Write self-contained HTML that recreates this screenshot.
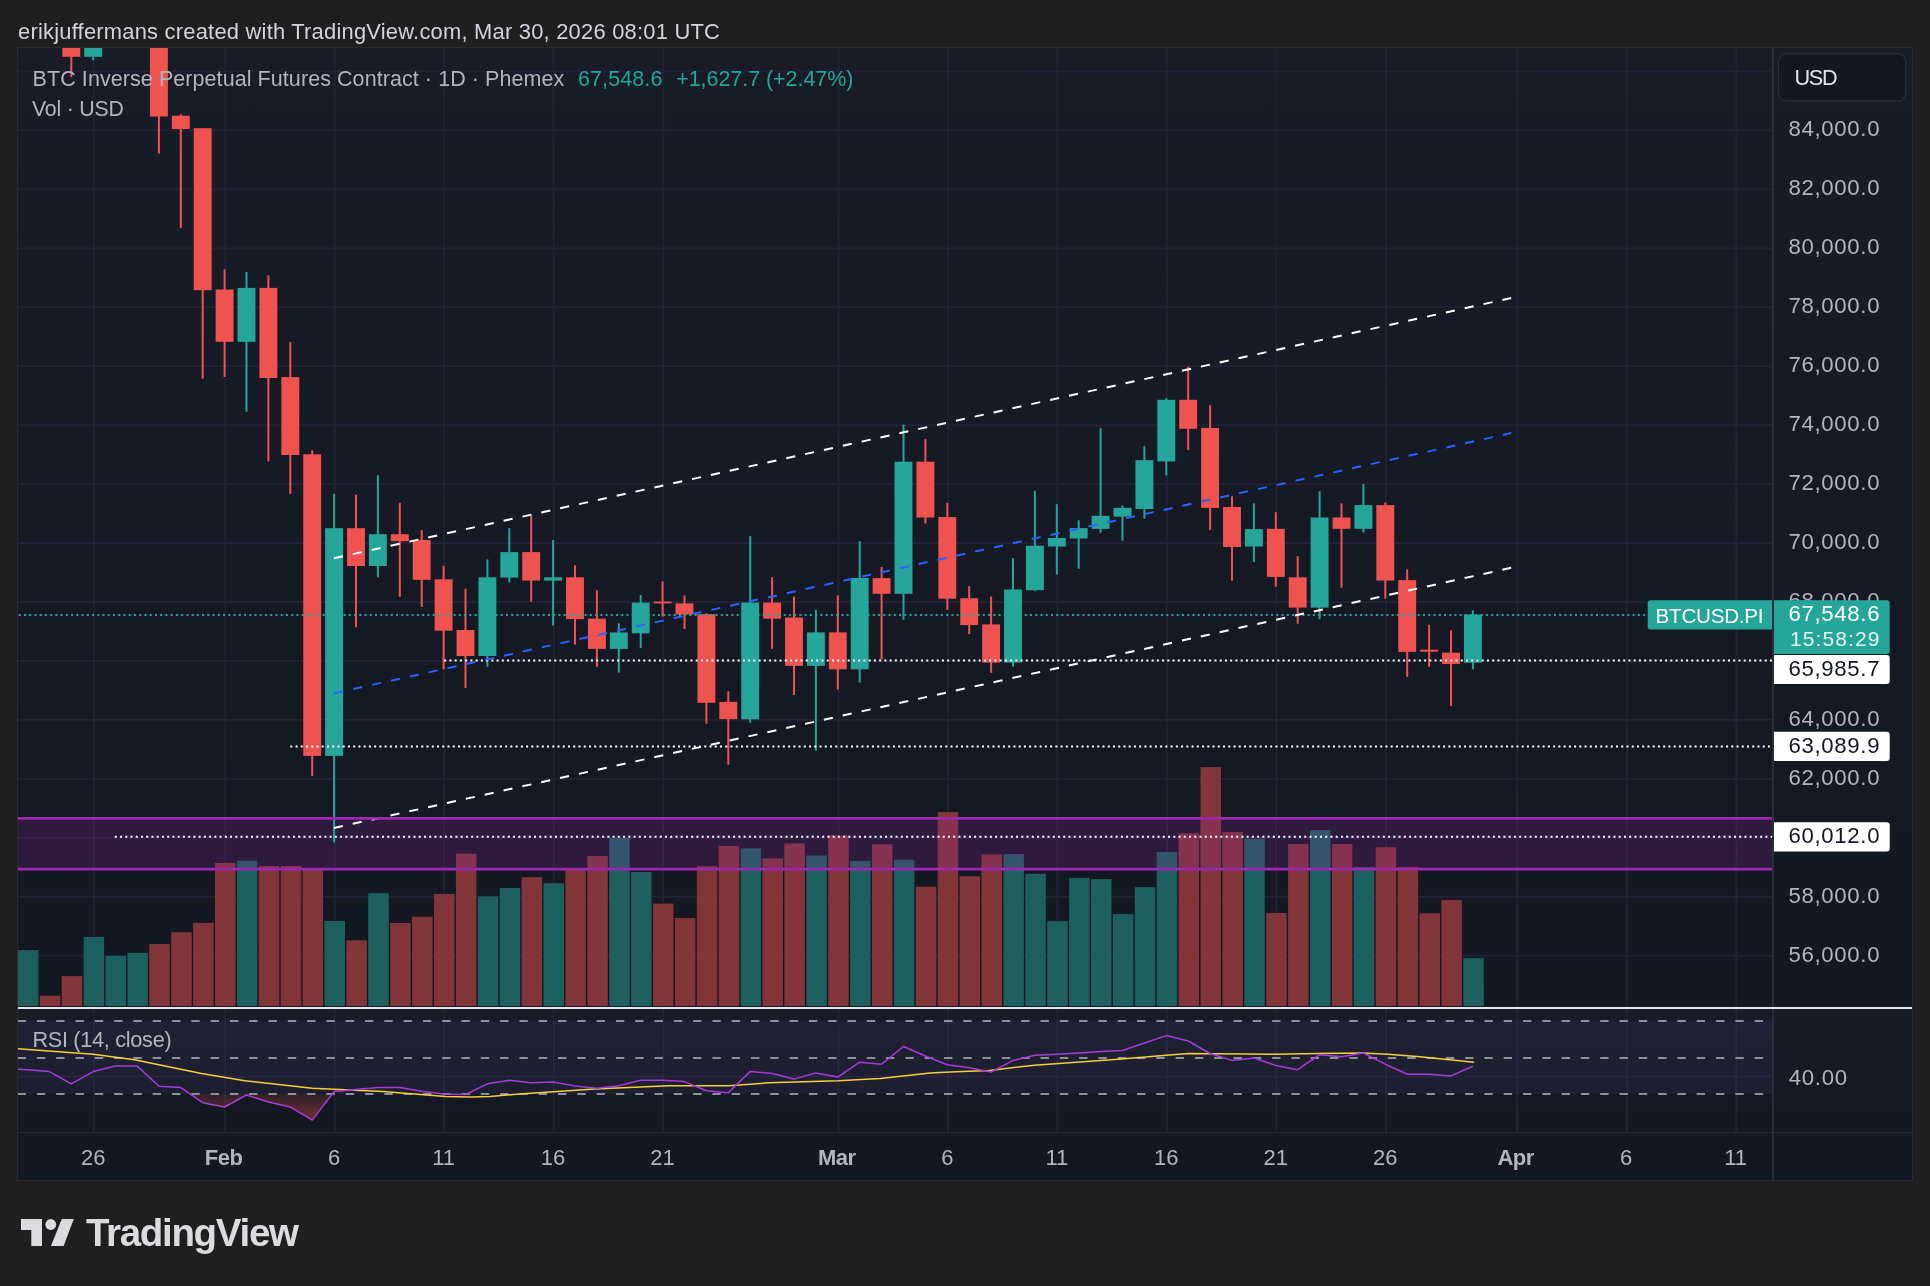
<!DOCTYPE html>
<html><head><meta charset="utf-8"><title>BTCUSD.PI chart</title>
<style>
html,body{margin:0;padding:0;background:#1f1f1f;}
body{width:1930px;height:1286px;overflow:hidden;position:relative;font-family:"Liberation Sans", sans-serif;}
svg{position:absolute;left:0;top:0;display:block;will-change:transform;}
svg text{font-family:"Liberation Sans", sans-serif;font-variant-ligatures:none;font-kerning:normal;}
</style></head><body>
<svg width="1930" height="1286" viewBox="0 0 1930 1286">
<defs>
<linearGradient id="gMain" x1="0" y1="48" x2="0" y2="1008" gradientUnits="userSpaceOnUse">
<stop offset="0" stop-color="#181c27"/><stop offset="1" stop-color="#131722"/></linearGradient>
<linearGradient id="gRsi" x1="0" y1="1008" x2="0" y2="1132" gradientUnits="userSpaceOnUse">
<stop offset="0" stop-color="#181c27"/><stop offset="1" stop-color="#131722"/></linearGradient>
<linearGradient id="gOS" x1="0" y1="1094" x2="0" y2="1121" gradientUnits="userSpaceOnUse">
<stop offset="0" stop-color="#ef5350" stop-opacity="0.12"/><stop offset="1" stop-color="#ef5350" stop-opacity="0.42"/></linearGradient>
<clipPath id="cMain"><rect x="18" y="48" width="1755" height="959"/></clipPath>
<clipPath id="cRsi"><rect x="18" y="1009" width="1755" height="123"/></clipPath>
<clipPath id="cOS"><rect x="18" y="1094" width="1755" height="40"/></clipPath>
</defs>

<rect x="18" y="48" width="1894" height="960" fill="url(#gMain)"/>
<rect x="18" y="1008" width="1894" height="124" fill="url(#gRsi)"/>
<rect x="18" y="1132" width="1894" height="48" fill="#131722"/>
<path d="M93.80 48V1132 M225.20 48V1132 M334.70 48V1132 M444.20 48V1132 M553.70 48V1132 M663.20 48V1132 M838.40 48V1132 M947.90 48V1132 M1057.40 48V1132 M1166.90 48V1132 M1276.40 48V1132 M1385.90 48V1132 M1517.30 48V1132 M1626.80 48V1132 M1736.30 48V1132 M18 955.712H1773 M18 896.7540000000001H1773 M18 837.796H1773 M18 778.838H1773 M18 719.8800000000001H1773 M18 660.922H1773 M18 601.964H1773 M18 543.0060000000001H1773 M18 484.04800000000006H1773 M18 425.09000000000003H1773 M18 366.13200000000006H1773 M18 307.17400000000004H1773 M18 248.216H1773 M18 189.258H1773 M18 130.3H1773 M18 71.34200000000001H1773 M18 1076.5H1773" stroke="#222136" stroke-width="1.9" fill="none"/>
<rect x="18" y="1021" width="1755" height="73" fill="#7e57c2" fill-opacity="0.09"/>
<g clip-path="url(#cMain)">
<rect x="17.90" y="950.1" width="20.5" height="55.9" fill="#1d5e5e"/>
<rect x="39.80" y="995.7" width="20.5" height="10.3" fill="#813539"/>
<rect x="61.70" y="976.1" width="20.5" height="29.9" fill="#813539"/>
<rect x="83.60" y="937.0" width="20.5" height="69.0" fill="#1d5e5e"/>
<rect x="105.50" y="955.9" width="20.5" height="50.1" fill="#1d5e5e"/>
<rect x="127.40" y="952.9" width="20.5" height="53.1" fill="#1d5e5e"/>
<rect x="149.30" y="944.0" width="20.5" height="62.0" fill="#813539"/>
<rect x="171.20" y="932.2" width="20.5" height="73.8" fill="#813539"/>
<rect x="193.10" y="922.9" width="20.5" height="83.1" fill="#813539"/>
<rect x="215.00" y="863.0" width="20.5" height="143.0" fill="#813539"/>
<rect x="236.90" y="860.7" width="20.5" height="145.3" fill="#1d5e5e"/>
<rect x="258.80" y="866.0" width="20.5" height="140.0" fill="#813539"/>
<rect x="280.70" y="866.0" width="20.5" height="140.0" fill="#813539"/>
<rect x="302.60" y="868.0" width="20.5" height="138.0" fill="#813539"/>
<rect x="324.50" y="920.9" width="20.5" height="85.1" fill="#1d5e5e"/>
<rect x="346.40" y="940.4" width="20.5" height="65.6" fill="#813539"/>
<rect x="368.30" y="893.2" width="20.5" height="112.8" fill="#1d5e5e"/>
<rect x="390.20" y="923.0" width="20.5" height="83.0" fill="#813539"/>
<rect x="412.10" y="916.7" width="20.5" height="89.3" fill="#813539"/>
<rect x="434.00" y="894.0" width="20.5" height="112.0" fill="#813539"/>
<rect x="455.90" y="853.7" width="20.5" height="152.3" fill="#813539"/>
<rect x="477.80" y="896.5" width="20.5" height="109.5" fill="#1d5e5e"/>
<rect x="499.70" y="888.0" width="20.5" height="118.0" fill="#1d5e5e"/>
<rect x="521.60" y="877.1" width="20.5" height="128.9" fill="#813539"/>
<rect x="543.50" y="883.2" width="20.5" height="122.8" fill="#1d5e5e"/>
<rect x="565.40" y="869.5" width="20.5" height="136.5" fill="#813539"/>
<rect x="587.30" y="856.0" width="20.5" height="150.0" fill="#813539"/>
<rect x="609.20" y="838.0" width="20.5" height="168.0" fill="#1d5e5e"/>
<rect x="631.10" y="872.0" width="20.5" height="134.0" fill="#1d5e5e"/>
<rect x="653.00" y="903.6" width="20.5" height="102.4" fill="#813539"/>
<rect x="674.90" y="918.0" width="20.5" height="88.0" fill="#813539"/>
<rect x="696.80" y="866.2" width="20.5" height="139.8" fill="#813539"/>
<rect x="718.70" y="845.9" width="20.5" height="160.1" fill="#813539"/>
<rect x="740.60" y="848.4" width="20.5" height="157.6" fill="#1d5e5e"/>
<rect x="762.50" y="858.4" width="20.5" height="147.6" fill="#813539"/>
<rect x="784.40" y="843.4" width="20.5" height="162.6" fill="#813539"/>
<rect x="806.30" y="855.4" width="20.5" height="150.6" fill="#1d5e5e"/>
<rect x="828.20" y="835.2" width="20.5" height="170.8" fill="#813539"/>
<rect x="850.10" y="860.9" width="20.5" height="145.1" fill="#1d5e5e"/>
<rect x="872.00" y="844.3" width="20.5" height="161.7" fill="#813539"/>
<rect x="893.90" y="859.7" width="20.5" height="146.3" fill="#1d5e5e"/>
<rect x="915.80" y="886.7" width="20.5" height="119.3" fill="#813539"/>
<rect x="937.70" y="812.1" width="20.5" height="193.9" fill="#813539"/>
<rect x="959.60" y="876.3" width="20.5" height="129.7" fill="#813539"/>
<rect x="981.50" y="854.4" width="20.5" height="151.6" fill="#813539"/>
<rect x="1003.40" y="854.1" width="20.5" height="151.9" fill="#1d5e5e"/>
<rect x="1025.30" y="873.8" width="20.5" height="132.2" fill="#1d5e5e"/>
<rect x="1047.20" y="921.1" width="20.5" height="84.9" fill="#1d5e5e"/>
<rect x="1069.10" y="877.9" width="20.5" height="128.1" fill="#1d5e5e"/>
<rect x="1091.00" y="879.1" width="20.5" height="126.9" fill="#1d5e5e"/>
<rect x="1112.90" y="914.1" width="20.5" height="91.9" fill="#1d5e5e"/>
<rect x="1134.80" y="887.1" width="20.5" height="118.9" fill="#1d5e5e"/>
<rect x="1156.70" y="851.9" width="20.5" height="154.1" fill="#1d5e5e"/>
<rect x="1178.60" y="833.3" width="20.5" height="172.7" fill="#813539"/>
<rect x="1200.50" y="767.1" width="20.5" height="238.9" fill="#813539"/>
<rect x="1222.40" y="832.1" width="20.5" height="173.9" fill="#813539"/>
<rect x="1244.30" y="838.7" width="20.5" height="167.3" fill="#1d5e5e"/>
<rect x="1266.20" y="913.0" width="20.5" height="93.0" fill="#813539"/>
<rect x="1288.10" y="844.0" width="20.5" height="162.0" fill="#813539"/>
<rect x="1310.00" y="830.1" width="20.5" height="175.9" fill="#1d5e5e"/>
<rect x="1331.90" y="844.0" width="20.5" height="162.0" fill="#813539"/>
<rect x="1353.80" y="866.9" width="20.5" height="139.1" fill="#1d5e5e"/>
<rect x="1375.70" y="847.3" width="20.5" height="158.7" fill="#813539"/>
<rect x="1397.60" y="866.9" width="20.5" height="139.1" fill="#813539"/>
<rect x="1419.50" y="913.3" width="20.5" height="92.7" fill="#813539"/>
<rect x="1441.40" y="900.1" width="20.5" height="105.9" fill="#813539"/>
<rect x="1463.30" y="958.1" width="20.5" height="47.9" fill="#1d5e5e"/>
</g>
<rect x="18" y="818.3" width="1755" height="50.9" fill="#9c27b0" fill-opacity="0.19"/>
<g clip-path="url(#cMain)">
<rect x="70.30" y="40.0" width="2" height="37.3" fill="#ef5350"/>
<rect x="62.35" y="40.0" width="17.9" height="16.8" fill="#ef5350"/>
<rect x="92.20" y="40.0" width="2" height="20.2" fill="#26a69a"/>
<rect x="84.25" y="40.0" width="17.9" height="16.8" fill="#26a69a"/>
<rect x="157.90" y="40.0" width="2" height="113.5" fill="#ef5350"/>
<rect x="149.95" y="40.0" width="17.9" height="76.5" fill="#ef5350"/>
<rect x="179.80" y="114.3" width="2" height="113.6" fill="#ef5350"/>
<rect x="171.85" y="115.7" width="17.9" height="13.3" fill="#ef5350"/>
<rect x="201.70" y="128.0" width="2" height="250.6" fill="#ef5350"/>
<rect x="193.75" y="128.2" width="17.9" height="162.0" fill="#ef5350"/>
<rect x="223.60" y="269.5" width="2" height="107.4" fill="#ef5350"/>
<rect x="215.65" y="289.5" width="17.9" height="52.3" fill="#ef5350"/>
<rect x="245.50" y="272.0" width="2" height="139.7" fill="#26a69a"/>
<rect x="237.55" y="287.9" width="17.9" height="53.9" fill="#26a69a"/>
<rect x="267.40" y="275.4" width="2" height="186.1" fill="#ef5350"/>
<rect x="259.45" y="287.9" width="17.9" height="90.1" fill="#ef5350"/>
<rect x="289.30" y="342.1" width="2" height="151.8" fill="#ef5350"/>
<rect x="281.35" y="377.1" width="17.9" height="77.9" fill="#ef5350"/>
<rect x="311.20" y="450.3" width="2" height="325.8" fill="#ef5350"/>
<rect x="303.25" y="454.3" width="17.9" height="301.6" fill="#ef5350"/>
<rect x="333.10" y="493.9" width="2" height="348.5" fill="#26a69a"/>
<rect x="325.15" y="528.2" width="17.9" height="227.7" fill="#26a69a"/>
<rect x="355.00" y="494.7" width="2" height="132.4" fill="#ef5350"/>
<rect x="347.05" y="528.2" width="17.9" height="37.8" fill="#ef5350"/>
<rect x="376.90" y="475.3" width="2" height="102.0" fill="#26a69a"/>
<rect x="368.95" y="534.2" width="17.9" height="31.8" fill="#26a69a"/>
<rect x="398.80" y="502.7" width="2" height="94.0" fill="#ef5350"/>
<rect x="390.85" y="534.2" width="17.9" height="7.0" fill="#ef5350"/>
<rect x="420.70" y="530.0" width="2" height="77.0" fill="#ef5350"/>
<rect x="412.75" y="540.0" width="17.9" height="39.8" fill="#ef5350"/>
<rect x="442.60" y="566.0" width="2" height="103.3" fill="#ef5350"/>
<rect x="434.65" y="579.3" width="17.9" height="51.4" fill="#ef5350"/>
<rect x="464.50" y="588.8" width="2" height="99.1" fill="#ef5350"/>
<rect x="456.55" y="630.0" width="17.9" height="26.0" fill="#ef5350"/>
<rect x="486.40" y="559.4" width="2" height="107.3" fill="#26a69a"/>
<rect x="478.45" y="577.3" width="17.9" height="78.7" fill="#26a69a"/>
<rect x="508.30" y="528.2" width="2" height="54.1" fill="#26a69a"/>
<rect x="500.35" y="552.1" width="17.9" height="25.5" fill="#26a69a"/>
<rect x="530.20" y="515.5" width="2" height="86.2" fill="#ef5350"/>
<rect x="522.25" y="552.1" width="17.9" height="28.5" fill="#ef5350"/>
<rect x="552.10" y="540.0" width="2" height="85.4" fill="#26a69a"/>
<rect x="544.15" y="577.3" width="17.9" height="3.3" fill="#26a69a"/>
<rect x="574.00" y="565.2" width="2" height="79.4" fill="#ef5350"/>
<rect x="566.05" y="577.3" width="17.9" height="41.8" fill="#ef5350"/>
<rect x="595.90" y="590.3" width="2" height="76.5" fill="#ef5350"/>
<rect x="587.95" y="618.7" width="17.9" height="30.2" fill="#ef5350"/>
<rect x="617.80" y="623.2" width="2" height="49.4" fill="#26a69a"/>
<rect x="609.85" y="632.4" width="17.9" height="16.5" fill="#26a69a"/>
<rect x="639.70" y="595.0" width="2" height="53.0" fill="#26a69a"/>
<rect x="631.75" y="602.6" width="17.9" height="30.7" fill="#26a69a"/>
<rect x="661.60" y="581.4" width="2" height="35.1" fill="#ef5350"/>
<rect x="653.65" y="601.6" width="17.9" height="1.8" fill="#ef5350"/>
<rect x="683.50" y="595.5" width="2" height="33.5" fill="#ef5350"/>
<rect x="675.55" y="603.4" width="17.9" height="11.1" fill="#ef5350"/>
<rect x="705.40" y="613.4" width="2" height="110.2" fill="#ef5350"/>
<rect x="697.45" y="614.2" width="17.9" height="88.6" fill="#ef5350"/>
<rect x="727.30" y="691.3" width="2" height="73.4" fill="#ef5350"/>
<rect x="719.35" y="701.9" width="17.9" height="17.2" fill="#ef5350"/>
<rect x="749.20" y="536.1" width="2" height="186.6" fill="#26a69a"/>
<rect x="741.25" y="602.6" width="17.9" height="116.7" fill="#26a69a"/>
<rect x="771.10" y="577.2" width="2" height="71.7" fill="#ef5350"/>
<rect x="763.15" y="602.6" width="17.9" height="16.1" fill="#ef5350"/>
<rect x="793.00" y="596.6" width="2" height="98.4" fill="#ef5350"/>
<rect x="785.05" y="617.5" width="17.9" height="48.4" fill="#ef5350"/>
<rect x="814.90" y="609.6" width="2" height="141.0" fill="#26a69a"/>
<rect x="806.95" y="632.4" width="17.9" height="33.5" fill="#26a69a"/>
<rect x="836.80" y="595.5" width="2" height="94.0" fill="#ef5350"/>
<rect x="828.85" y="632.4" width="17.9" height="36.9" fill="#ef5350"/>
<rect x="858.70" y="541.1" width="2" height="141.4" fill="#26a69a"/>
<rect x="850.75" y="578.0" width="17.9" height="91.3" fill="#26a69a"/>
<rect x="880.60" y="566.9" width="2" height="92.6" fill="#ef5350"/>
<rect x="872.65" y="578.1" width="17.9" height="15.7" fill="#ef5350"/>
<rect x="902.50" y="424.6" width="2" height="195.2" fill="#26a69a"/>
<rect x="894.55" y="461.7" width="17.9" height="132.1" fill="#26a69a"/>
<rect x="924.40" y="439.0" width="2" height="84.6" fill="#ef5350"/>
<rect x="916.45" y="461.7" width="17.9" height="55.8" fill="#ef5350"/>
<rect x="946.30" y="502.9" width="2" height="106.9" fill="#ef5350"/>
<rect x="938.35" y="517.0" width="17.9" height="81.7" fill="#ef5350"/>
<rect x="968.20" y="586.1" width="2" height="48.0" fill="#ef5350"/>
<rect x="960.25" y="598.2" width="17.9" height="26.9" fill="#ef5350"/>
<rect x="990.10" y="596.6" width="2" height="76.3" fill="#ef5350"/>
<rect x="982.15" y="624.4" width="17.9" height="38.2" fill="#ef5350"/>
<rect x="1012.00" y="558.1" width="2" height="108.5" fill="#26a69a"/>
<rect x="1004.05" y="589.5" width="17.9" height="73.1" fill="#26a69a"/>
<rect x="1033.90" y="490.8" width="2" height="100.2" fill="#26a69a"/>
<rect x="1025.95" y="545.7" width="17.9" height="44.5" fill="#26a69a"/>
<rect x="1055.80" y="504.2" width="2" height="70.3" fill="#26a69a"/>
<rect x="1047.85" y="538.0" width="17.9" height="8.5" fill="#26a69a"/>
<rect x="1077.70" y="520.3" width="2" height="48.6" fill="#26a69a"/>
<rect x="1069.75" y="528.1" width="17.9" height="10.4" fill="#26a69a"/>
<rect x="1099.60" y="428.2" width="2" height="104.5" fill="#26a69a"/>
<rect x="1091.65" y="515.8" width="17.9" height="13.1" fill="#26a69a"/>
<rect x="1121.50" y="505.4" width="2" height="35.3" fill="#26a69a"/>
<rect x="1113.55" y="507.8" width="17.9" height="8.8" fill="#26a69a"/>
<rect x="1143.40" y="446.2" width="2" height="72.4" fill="#26a69a"/>
<rect x="1135.45" y="460.2" width="17.9" height="48.8" fill="#26a69a"/>
<rect x="1165.30" y="398.1" width="2" height="77.4" fill="#26a69a"/>
<rect x="1157.35" y="399.8" width="17.9" height="61.6" fill="#26a69a"/>
<rect x="1187.20" y="366.6" width="2" height="83.4" fill="#ef5350"/>
<rect x="1179.25" y="399.8" width="17.9" height="29.0" fill="#ef5350"/>
<rect x="1209.10" y="405.2" width="2" height="124.7" fill="#ef5350"/>
<rect x="1201.15" y="427.9" width="17.9" height="80.0" fill="#ef5350"/>
<rect x="1231.00" y="496.3" width="2" height="84.3" fill="#ef5350"/>
<rect x="1223.05" y="507.0" width="17.9" height="40.0" fill="#ef5350"/>
<rect x="1252.90" y="503.4" width="2" height="58.6" fill="#26a69a"/>
<rect x="1244.95" y="529.1" width="17.9" height="17.4" fill="#26a69a"/>
<rect x="1274.80" y="512.2" width="2" height="74.5" fill="#ef5350"/>
<rect x="1266.85" y="528.8" width="17.9" height="48.1" fill="#ef5350"/>
<rect x="1296.70" y="556.2" width="2" height="67.5" fill="#ef5350"/>
<rect x="1288.75" y="577.3" width="17.9" height="30.3" fill="#ef5350"/>
<rect x="1318.60" y="491.3" width="2" height="127.9" fill="#26a69a"/>
<rect x="1310.65" y="517.5" width="17.9" height="90.1" fill="#26a69a"/>
<rect x="1340.50" y="503.4" width="2" height="84.3" fill="#ef5350"/>
<rect x="1332.55" y="517.5" width="17.9" height="11.3" fill="#ef5350"/>
<rect x="1362.40" y="484.0" width="2" height="48.4" fill="#26a69a"/>
<rect x="1354.45" y="505.1" width="17.9" height="23.7" fill="#26a69a"/>
<rect x="1384.30" y="502.6" width="2" height="96.2" fill="#ef5350"/>
<rect x="1376.35" y="505.1" width="17.9" height="75.5" fill="#ef5350"/>
<rect x="1406.20" y="569.3" width="2" height="107.5" fill="#ef5350"/>
<rect x="1398.25" y="580.1" width="17.9" height="71.8" fill="#ef5350"/>
<rect x="1428.10" y="624.9" width="2" height="41.9" fill="#ef5350"/>
<rect x="1420.15" y="649.7" width="17.9" height="2.0" fill="#ef5350"/>
<rect x="1450.00" y="630.3" width="2" height="75.8" fill="#ef5350"/>
<rect x="1442.05" y="652.7" width="17.9" height="11.3" fill="#ef5350"/>
<rect x="1471.90" y="610.4" width="2" height="58.9" fill="#26a69a"/>
<rect x="1463.95" y="614.6" width="17.9" height="48.1" fill="#26a69a"/>
</g>
<g clip-path="url(#cMain)" fill="none" stroke-width="2" stroke-dasharray="2 3.24">
<path d="M18.7 615H1648" stroke="#26a69a"/>
<path d="M444.2 660.5H1773" stroke="#ffffff"/>
<path d="M290.3 746.4H1773" stroke="#ffffff"/>
<path d="M114.8 836.8H1773" stroke="#ffffff"/>
</g>
<g clip-path="url(#cMain)" fill="none" stroke-width="2" stroke-dasharray="9.2 10.1">
<path d="M334 558.3L1511.2 298" stroke="#ffffff"/>
<path d="M334.4 693.2L1511.2 433.1" stroke="#2962ff"/>
<path d="M333.9 828L1511.2 567.8" stroke="#ffffff"/>
</g>
<path d="M18 818.3H1773M18 869.2H1773" stroke="#9c27b0" stroke-width="2.8"/>
<path d="M17.6 1021H1765M17.6 1058H1765M17.6 1094H1765" stroke="#8d8f99" stroke-width="2" stroke-dasharray="8.4 10.9" fill="none" clip-path="url(#cRsi)"/>
<g clip-path="url(#cRsi)"><g clip-path="url(#cOS)"><polygon points="5.6,1094 5.6,1068.5 27.5,1069.8 49.4,1071.6 71.3,1083.8 93.2,1071.6 115.1,1065.9 137.0,1065.9 158.9,1086.3 180.8,1087.6 202.7,1102.7 224.6,1107.0 246.5,1095.0 268.4,1102.0 290.3,1107.0 312.2,1120.1 334.1,1091.5 356.0,1089.6 377.9,1087.6 399.8,1087.6 421.7,1091.3 443.6,1094.0 465.5,1094.5 487.4,1083.8 509.3,1080.3 531.2,1082.8 553.1,1082.1 575.0,1086.1 596.9,1088.3 618.8,1085.8 640.7,1080.3 662.6,1080.3 684.5,1081.6 706.4,1090.8 728.3,1092.8 750.2,1071.4 772.1,1073.4 794.0,1079.1 815.9,1072.9 837.8,1077.1 859.7,1062.2 881.6,1064.2 903.5,1046.5 925.4,1056.0 947.3,1064.7 969.2,1067.7 991.1,1072.1 1013.0,1060.4 1034.9,1055.2 1056.8,1054.2 1078.7,1053.0 1100.6,1051.5 1122.5,1050.5 1144.4,1043.0 1166.3,1035.6 1188.2,1041.0 1210.1,1053.5 1232.0,1060.4 1253.9,1058.0 1275.8,1065.4 1297.7,1069.7 1319.6,1054.7 1341.5,1056.7 1363.4,1053.0 1385.3,1064.2 1407.2,1074.3 1429.1,1074.3 1451.0,1075.9 1472.9,1066.3 1472.9,1094" fill="url(#gOS)"/></g>
<polyline points="10.0,1048.6 18.0,1048.8 93.3,1054.2 134.4,1059.7 201.5,1073.4 245.0,1080.8 312.2,1088.3 383.0,1091.5 445.3,1096.5 470.0,1097.0 489.9,1096.5 519.8,1094.0 594.4,1089.0 669.0,1085.8 728.7,1085.8 768.5,1082.8 838.2,1080.8 880.4,1078.4 930.2,1072.9 950.1,1072.1 989.8,1070.4 1034.5,1065.2 1121.6,1059.0 1166.4,1055.2 1188.8,1053.5 1275.8,1054.2 1318.1,1053.5 1362.9,1053.0 1387.8,1054.2 1420.0,1056.7 1474.1,1062.2" fill="none" stroke="#f5cf3a" stroke-width="1.5" stroke-linejoin="round"/>
<polyline points="5.6,1068.5 27.5,1069.8 49.4,1071.6 71.3,1083.8 93.2,1071.6 115.1,1065.9 137.0,1065.9 158.9,1086.3 180.8,1087.6 202.7,1102.7 224.6,1107.0 246.5,1095.0 268.4,1102.0 290.3,1107.0 312.2,1120.1 334.1,1091.5 356.0,1089.6 377.9,1087.6 399.8,1087.6 421.7,1091.3 443.6,1094.0 465.5,1094.5 487.4,1083.8 509.3,1080.3 531.2,1082.8 553.1,1082.1 575.0,1086.1 596.9,1088.3 618.8,1085.8 640.7,1080.3 662.6,1080.3 684.5,1081.6 706.4,1090.8 728.3,1092.8 750.2,1071.4 772.1,1073.4 794.0,1079.1 815.9,1072.9 837.8,1077.1 859.7,1062.2 881.6,1064.2 903.5,1046.5 925.4,1056.0 947.3,1064.7 969.2,1067.7 991.1,1072.1 1013.0,1060.4 1034.9,1055.2 1056.8,1054.2 1078.7,1053.0 1100.6,1051.5 1122.5,1050.5 1144.4,1043.0 1166.3,1035.6 1188.2,1041.0 1210.1,1053.5 1232.0,1060.4 1253.9,1058.0 1275.8,1065.4 1297.7,1069.7 1319.6,1054.7 1341.5,1056.7 1363.4,1053.0 1385.3,1064.2 1407.2,1074.3 1429.1,1074.3 1451.0,1075.9 1472.9,1066.3" fill="none" stroke="#a43cd8" stroke-width="1.5" stroke-linejoin="round"/>
</g>
<path d="M1773 48V1180" stroke="#2a2e39" stroke-width="2"/>
<path d="M18 1132.5H1912" stroke="#2a2e39" stroke-width="1.2"/>
<path d="M18 1008H1912" stroke="#e6e8ee" stroke-width="2"/>
<rect x="17.5" y="47.5" width="1895" height="1133" fill="none" stroke="#2c2a2e" stroke-width="1"/>
<text x="1880.2" y="961.6" font-size="22.2" letter-spacing="0.68" fill="#b2b5be" text-anchor="end">56,000.0</text>
<text x="1880.2" y="902.7" font-size="22.2" letter-spacing="0.68" fill="#b2b5be" text-anchor="end">58,000.0</text>
<text x="1880.2" y="784.7" font-size="22.2" letter-spacing="0.68" fill="#b2b5be" text-anchor="end">62,000.0</text>
<text x="1880.2" y="725.8" font-size="22.2" letter-spacing="0.68" fill="#b2b5be" text-anchor="end">64,000.0</text>
<text x="1880.2" y="607.9" font-size="22.2" letter-spacing="0.68" fill="#b2b5be" text-anchor="end">68,000.0</text>
<text x="1880.2" y="548.9" font-size="22.2" letter-spacing="0.68" fill="#b2b5be" text-anchor="end">70,000.0</text>
<text x="1880.2" y="489.9" font-size="22.2" letter-spacing="0.68" fill="#b2b5be" text-anchor="end">72,000.0</text>
<text x="1880.2" y="431.0" font-size="22.2" letter-spacing="0.68" fill="#b2b5be" text-anchor="end">74,000.0</text>
<text x="1880.2" y="372.0" font-size="22.2" letter-spacing="0.68" fill="#b2b5be" text-anchor="end">76,000.0</text>
<text x="1880.2" y="313.1" font-size="22.2" letter-spacing="0.68" fill="#b2b5be" text-anchor="end">78,000.0</text>
<text x="1880.2" y="254.1" font-size="22.2" letter-spacing="0.68" fill="#b2b5be" text-anchor="end">80,000.0</text>
<text x="1880.2" y="195.2" font-size="22.2" letter-spacing="0.68" fill="#b2b5be" text-anchor="end">82,000.0</text>
<text x="1880.2" y="136.2" font-size="22.2" letter-spacing="0.68" fill="#b2b5be" text-anchor="end">84,000.0</text>
<rect x="1778.5" y="53.7" width="127.3" height="47.1" rx="8" fill="#131722" stroke="#2a2e39" stroke-width="1.2"/>
<text x="1794.6" y="84.9" font-size="21.7" letter-spacing="-1.4" fill="#e0e3eb">USD</text>
<path d="M1650.7 600.2H1772V629.5H1650.7Q1647.7 629.5 1647.7 626.5V603.2Q1647.7 600.2 1650.7 600.2Z" fill="#26a69a"/>
<text x="1655.6" y="622.9" font-size="20.7" letter-spacing="-0.3" fill="#ffffff">BTCUSD.PI</text>
<path d="M1774 600.2H1886.7Q1889.7 600.2 1889.7 603.2V650.9Q1889.7 653.9 1886.7 653.9H1774Z" fill="#26a69a"/>
<text x="1880.2" y="621" font-size="22.2" letter-spacing="0.68" fill="#ffffff" text-anchor="end">67,548.6</text>
<text x="1880.6" y="645.5" font-size="21" letter-spacing="1.1" fill="#e6f4f2" text-anchor="end">15:58:29</text>
<path d="M1774 655H1886.7Q1889.7 655 1889.7 658V680.9Q1889.7 683.9 1886.7 683.9H1774Z" fill="#ffffff"/>
<text x="1880.2" y="675.8" font-size="22.2" letter-spacing="0.68" fill="#131722" text-anchor="end">65,985.7</text>
<path d="M1774 731.7H1886.7Q1889.7 731.7 1889.7 734.7V758Q1889.7 761 1886.7 761H1774Z" fill="#ffffff"/>
<text x="1880.2" y="752.6" font-size="22.2" letter-spacing="0.68" fill="#131722" text-anchor="end">63,089.9</text>
<path d="M1774 822.3H1886.7Q1889.7 822.3 1889.7 825.3V848.4Q1889.7 851.4 1886.7 851.4H1774Z" fill="#ffffff"/>
<text x="1880.2" y="843.1" font-size="22.2" letter-spacing="0.68" fill="#131722" text-anchor="end">60,012.0</text>
<text x="1788.8" y="1085" font-size="22.2" letter-spacing="0.68" fill="#b2b5be">40.00</text>
<text x="93.2" y="1165.1" font-size="22" font-weight="normal" letter-spacing="0" fill="#b2b5be" text-anchor="middle">26</text>
<text x="223.6" y="1165.1" font-size="22" font-weight="bold" letter-spacing="-0.45" fill="#b2b5be" text-anchor="middle">Feb</text>
<text x="334.1" y="1165.1" font-size="22" font-weight="normal" letter-spacing="0" fill="#b2b5be" text-anchor="middle">6</text>
<text x="443.6" y="1165.1" font-size="22" font-weight="normal" letter-spacing="0" fill="#b2b5be" text-anchor="middle">11</text>
<text x="553.1" y="1165.1" font-size="22" font-weight="normal" letter-spacing="0" fill="#b2b5be" text-anchor="middle">16</text>
<text x="662.6" y="1165.1" font-size="22" font-weight="normal" letter-spacing="0" fill="#b2b5be" text-anchor="middle">21</text>
<text x="836.8" y="1165.1" font-size="22" font-weight="bold" letter-spacing="-0.45" fill="#b2b5be" text-anchor="middle">Mar</text>
<text x="947.3" y="1165.1" font-size="22" font-weight="normal" letter-spacing="0" fill="#b2b5be" text-anchor="middle">6</text>
<text x="1056.8" y="1165.1" font-size="22" font-weight="normal" letter-spacing="0" fill="#b2b5be" text-anchor="middle">11</text>
<text x="1166.3" y="1165.1" font-size="22" font-weight="normal" letter-spacing="0" fill="#b2b5be" text-anchor="middle">16</text>
<text x="1275.8" y="1165.1" font-size="22" font-weight="normal" letter-spacing="0" fill="#b2b5be" text-anchor="middle">21</text>
<text x="1385.3" y="1165.1" font-size="22" font-weight="normal" letter-spacing="0" fill="#b2b5be" text-anchor="middle">26</text>
<text x="1515.7" y="1165.1" font-size="22" font-weight="bold" letter-spacing="-0.45" fill="#b2b5be" text-anchor="middle">Apr</text>
<text x="1626.2" y="1165.1" font-size="22" font-weight="normal" letter-spacing="0" fill="#b2b5be" text-anchor="middle">6</text>
<text x="1735.7" y="1165.1" font-size="22" font-weight="normal" letter-spacing="0" fill="#b2b5be" text-anchor="middle">11</text>
<text x="32.6" y="85.9" font-size="21.5" letter-spacing="0.07" fill="#b2b5be">BTC Inverse Perpetual Futures Contract · 1D · Phemex</text>
<text x="578" y="85.9" font-size="21.5" letter-spacing="0.1" fill="#26a69a">67,548.6</text>
<text x="676.2" y="85.9" font-size="21.5" letter-spacing="-0.05" fill="#26a69a">+1,627.7 (+2.47%)</text>
<text x="32" y="115.6" font-size="21.3" letter-spacing="-0.2" fill="#b2b5be">Vol · USD</text>
<text x="32.4" y="1047.3" font-size="21.7" letter-spacing="-0.3" fill="#b2b5be">RSI (14, close)</text>
<text x="18" y="38.6" font-size="21.9" letter-spacing="0.23" fill="#d1d4dc">erikjuffermans created with TradingView.com, Mar 30, 2026 08:01 UTC</text>
<g fill="#dbdce0"><path d="M21 1219.1H42V1245.9H31.3V1230H21Z"/><circle cx="50.8" cy="1224.5" r="5.4"/><path d="M61.8 1219.1H73.8L63.6 1245.9H50.9Z"/></g>
<text x="85.9" y="1245.6" font-size="38.5" font-weight="bold" letter-spacing="-1.3" fill="#dbdce0">TradingView</text>
</svg></body></html>
